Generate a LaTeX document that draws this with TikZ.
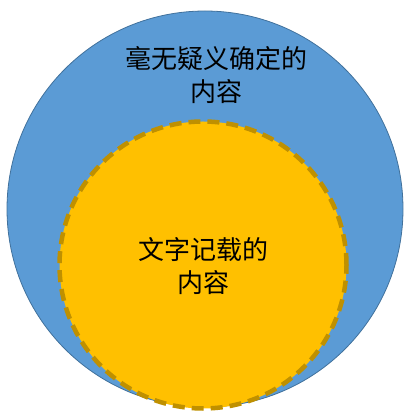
\documentclass[tikz,border=0pt]{standalone}
\usepackage{fontspec}
\newfontfamily\cjk{Noto Sans CJK SC}
\definecolor{blueFill}{HTML}{5B9BD5}
\definecolor{blueLine}{HTML}{41719C}
\definecolor{yellowFill}{HTML}{FFC000}
\definecolor{yellowLine}{HTML}{BF9000}
\tikzset{
  lbl/.style={align=center, font=\cjk\fontsize{26}{33}\selectfont, text=black, inner sep=0pt},
}
\begin{document}
\begin{tikzpicture}[x=1pt,y=1pt]
\useasboundingbox (0,0) rectangle (405,415);
\node[circle, minimum size=396pt, fill=blueFill, draw=blueLine, line width=0.8pt, inner sep=0pt] (outer) at (205,206) {};
\node[circle, minimum size=287pt, fill=yellowFill, draw=yellowLine, line width=4.5pt, dash pattern=on 12pt off 7pt, inner sep=0pt] (inner) at (203,150) {};
\node[lbl] (outerlbl) at (216,340) {毫无疑义确定的\\内容};
\node[lbl] (innerlbl) at (203,149) {文字记载的\\内容};
\end{tikzpicture}
\end{document}
